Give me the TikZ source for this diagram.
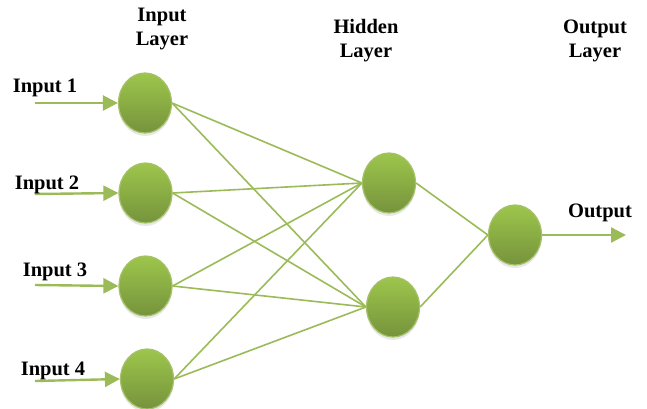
\documentclass[tikz,border=0pt]{standalone}
\usepackage{fontspec}
\setmainfont{Liberation Serif}
\usetikzlibrary{arrows.meta,shapes.geometric,shadows}
\definecolor{lgreen}{HTML}{9BBB59}
\definecolor{ntop}{HTML}{9DC64C}
\definecolor{nbot}{HTML}{76933C}
\begin{document}
\begin{tikzpicture}[x=1pt,y=-1pt,
  neuron/.style={ellipse, minimum width=53pt, minimum height=60pt, inner sep=0pt,
    top color=ntop, bottom color=nbot, draw=lgreen!90!white, line width=1.2pt,
    drop shadow={opacity=0.18, shadow xshift=0pt, shadow yshift=-3pt}},
  conn/.style={draw=lgreen, line width=1.6pt},
  inarrow/.style={draw=lgreen, line width=2.4pt, -{Triangle[length=15pt,width=15pt]}},
  lbl/.style={font=\bfseries\fontsize{20.5}{24}\selectfont, inner sep=0pt, anchor=base, align=center}]
\useasboundingbox (0,0) rectangle (647,408);
% neurons
\node[neuron] (I1) at (145,103) {};
\node[neuron] (I2) at (145.5,193) {};
\node[neuron] (I3) at (145.5,286) {};
\node[neuron] (I4) at (147,379) {};
\node[neuron] (H1) at (389,183) {};
\node[neuron] (H2) at (393,307) {};
\node[neuron] (O) at (515,235) {};
% connections
\foreach \i in {I1,I2,I3,I4}{
  \foreach \h in {H1,H2}{
    \draw[conn] (\i.east) -- (\h.west);
  }
}
\draw[conn] (H1.east) -- (O.west);
\draw[conn] (H2.east) -- (O.west);
% input arrows
\coordinate (s1) at (35,103);
\coordinate (s2) at (35,194);
\coordinate (s3) at (35,285);
\coordinate (s4) at (35,381);
\coordinate (e0) at (626,235);
\draw[inarrow] (s1) -- (I1.west);
\draw[inarrow] (s2) -- (I2.west);
\draw[inarrow] (s3) -- (I3.west);
\draw[inarrow] (s4) -- (I4.west);
\draw[inarrow] (O.east) -- (e0);
% labels
\node[lbl] (l1) at (45,92) {Input 1};
\node[lbl] (l2) at (47,189) {Input 2};
\node[lbl] (l3) at (55,276) {Input 3};
\node[lbl] (l4) at (53,375) {Input 4};
\node[lbl] (lo) at (600,217) {Output};
\node[lbl] (hin) at (162,45) {Input\\Layer};
\node[lbl] (hhid) at (366,57) {Hidden\\Layer};
\node[lbl] (hout) at (595,57) {Output\\Layer};
\end{tikzpicture}
\end{document}
